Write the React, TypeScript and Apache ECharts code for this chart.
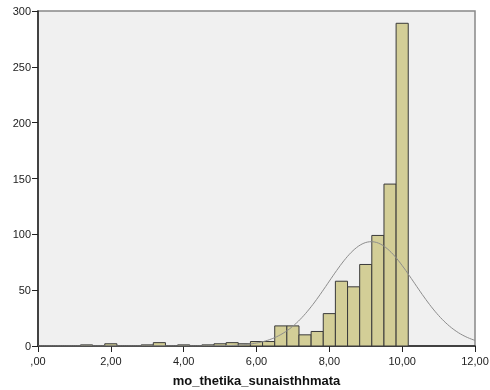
import React, { useEffect, useRef } from "react";
import * as echarts from "echarts";

const binCenters = [1.333, 2, 3, 3.333, 4, 4.667, 5, 5.333, 5.667, 6, 6.333, 6.667, 7, 7.333, 7.667, 8, 8.333, 8.667, 9, 9.333, 9.667, 10];
const binCounts = [1, 2, 1, 3, 1, 1, 2, 3, 2, 4, 4, 18, 18, 10, 13, 29, 58, 53, 73, 99, 145, 289];
const binWidth = 1 / 3;
const normalMean = 9.15;
const normalSd = 1.18;
const xTicks = [0, 2, 4, 6, 8, 10, 12];
const yTicks = [0, 50, 100, 150, 200, 250, 300];
const xTitle = "mo_thetika_sunaisthhmata";

export default function App() {
  const ref = useRef<HTMLDivElement>(null);
  useEffect(() => {
    if (!ref.current) return;
    const chart = echarts.init(ref.current, undefined, { renderer: "svg" });
    const total = binCounts.reduce((a, b) => a + b, 0);
    const scale = (total * binWidth) / (normalSd * Math.sqrt(2 * Math.PI));
    const curve: number[][] = [];
    for (let i = 0; i <= 240; i++) {
      const x = (xTicks[xTicks.length - 1] * i) / 240;
      const z = (x - normalMean) / normalSd;
      curve.push([x, scale * Math.exp(-0.5 * z * z)]);
    }
    const bars = binCenters.map((c, i) => [c, binCounts[i]]);
    chart.setOption({
      animation: false,
      grid: {
        left: 38,
        right: 15,
        top: 11,
        bottom: 44,
        outerBoundsMode: "none",
        containLabel: false,
        show: true,
        backgroundColor: "#f0f0f0",
        borderColor: "#888888",
        borderWidth: 1.5,
      },
      xAxis: {
        type: "value",
        min: xTicks[0],
        max: xTicks[xTicks.length - 1],
        interval: 2,
        name: xTitle,
        nameLocation: "middle",
        nameGap: 28,
        nameTextStyle: { fontFamily: "Liberation Sans", fontWeight: "bold", fontSize: 13, color: "#111" },
        axisLine: { show: true, onZero: false, lineStyle: { color: "#222", width: 1.5 } },
        axisTick: { show: true, length: 6, lineStyle: { color: "#222" } },
        axisLabel: {
          fontFamily: "Liberation Sans",
          fontSize: 11,
          color: "#222",
          margin: 9,
          formatter: (v: number) => (v === 0 ? ",00" : v.toFixed(2).replace(".", ",")),
        },
        splitLine: { show: false },
      },
      yAxis: {
        type: "value",
        min: yTicks[0],
        max: yTicks[yTicks.length - 1],
        interval: 50,
        axisLine: { show: true, lineStyle: { color: "#222", width: 1.5 } },
        axisTick: { show: true, length: 6, lineStyle: { color: "#222" } },
        axisLabel: { fontFamily: "Liberation Sans", fontSize: 11, color: "#222", margin: 7 },
        splitLine: { show: false },
      },
      series: [
        {
          type: "custom",
          data: bars,
          renderItem: (params: any, api: any) => {
            const c = api.value(0);
            const v = api.value(1);
            const p1 = api.coord([c - binWidth / 2, v]);
            const p2 = api.coord([c + binWidth / 2, 0]);
            return {
              type: "rect",
              shape: { x: p1[0], y: p1[1], width: p2[0] - p1[0], height: p2[1] - p1[1] },
              style: { fill: "#d3ce97", stroke: "#3a3a3a", lineWidth: 1 },
            };
          },
          z: 2,
        },
        {
          type: "line",
          data: curve,
          showSymbol: false,
          smooth: false,
          lineStyle: { color: "#8c8c8c", width: 1 },
          z: 3,
        },
      ],
    });
    return () => chart.dispose();
  }, []);
  return <div ref={ref} style={{ position: "fixed", left: 0, top: 0, width: 490, height: 390 }} />;
}
